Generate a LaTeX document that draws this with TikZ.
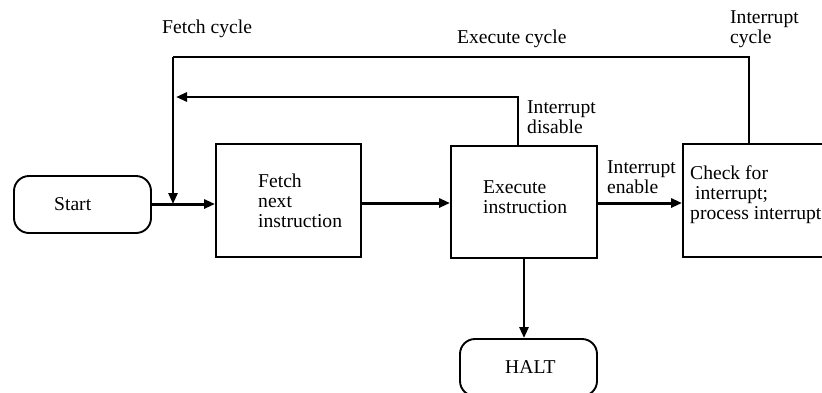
\documentclass[tikz,border=0pt]{standalone}
\usepackage{fontspec}
\setmainfont{Liberation Serif}
\usetikzlibrary{arrows.meta}
\begin{document}
\begin{tikzpicture}[x=1pt,y=-1pt,
  every node/.style={font=\fontsize{19.6}{20}\selectfont},
  % multi-line texts are placed by the baseline of their last line
  txt/.style={anchor=base west, inner sep=0pt, align=left},
  stepbox/.style={draw, line width=1.9pt, inner sep=0pt},
  term/.style={stepbox, rounded corners=15pt},
  flow/.style={line width=3pt, -{Triangle[length=11pt,width=9pt]}},
  loopline/.style={line width=1.9pt},
]
\useasboundingbox (0,0) rectangle (822,392);

% blocks of the instruction cycle
\node[term, minimum width=137pt, minimum height=57pt] (start) at (82.5,204.5) {};
\node[stepbox, minimum width=145pt, minimum height=113pt] (fetch) at (288.5,200.5) {};
\node[stepbox, minimum width=146pt, minimum height=112pt] (exec) at (524,202) {};
\node[stepbox, minimum width=145pt, minimum height=113pt] (check) at (755.5,200.5) {};
\node[term, minimum width=137pt, minimum height=57pt] (halt) at (528.5,367.5) {};

% texts in the blocks
\node[txt] (tstart) at (54,210) {Start};
\node[txt] (tfetch) at (258,227) {Fetch\\next\\instruction};
\node[txt] (texec) at (483,213) {Execute\\instruction};
\node[txt] (tcheck) at (690,219) {Check for\\\ interrupt;\\process interrupt};
\node[txt] (thalt) at (505,373) {HALT};

% cycle labels
\node[txt] (lfetch) at (162,33) {Fetch cycle};
\node[txt] (lexec) at (457,43) {Execute cycle};
\node[txt] (lint) at (730,43) {Interrupt\\cycle};
\node[txt] (ldis) at (527,133) {Interrupt\\disable};
\node[txt] (lena) at (607,193) {Interrupt\\enable};

% junction and bend points
\coordinate (j) at (173,204);
\coordinate (top) at (173,57);
\coordinate (ret) at (176,97);

% main flow
\draw[flow] (start.east |- j) -- (fetch.west |- j);
\draw[flow] (fetch.east |- 0,203) -- (exec.west |- 0,203);
\draw[flow] (exec.east |- 0,203) -- (check.west |- 0,203);
\draw[flow, line width=2.6pt] (exec.south) -- (exec.south |- halt.north);

% return paths to the fetch cycle
\draw[loopline] (check.north -| 749,0) -- (749,57) -- (top);
\draw[flow, line width=2.6pt] (top) -- (j);
\draw[flow, line width=2.9pt] (exec.north -| 518,0) -- (518,97) -- (ret);
\end{tikzpicture}
\end{document}
